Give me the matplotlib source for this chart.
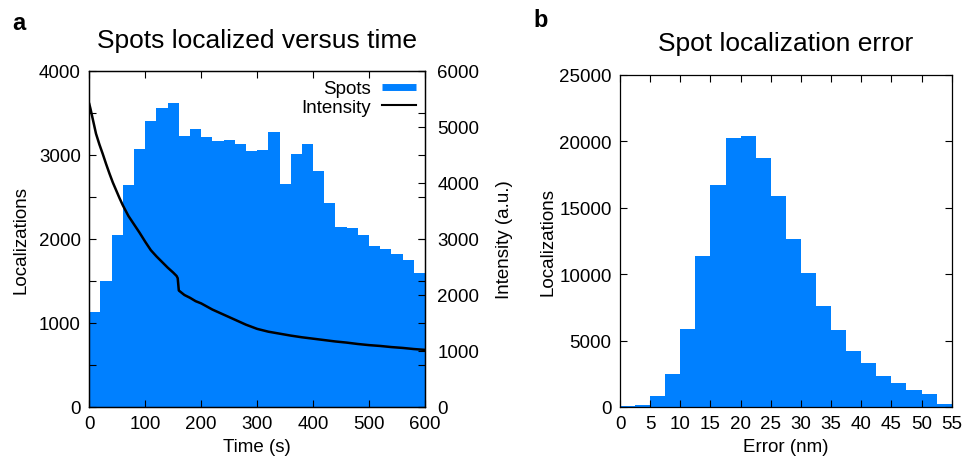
import matplotlib
matplotlib.use("Agg")
import matplotlib.pyplot as plt
from matplotlib.lines import Line2D
import numpy as np

plt.rcParams['font.family'] = ['Liberation Sans', 'DejaVu Sans']

BLUE = '#0080ff'

# panel a: spots per 20 s bin
time_edges = np.arange(0, 620, 20)
spots = [1130, 1505, 2048, 2642, 3077, 3406, 3556, 3624, 3232, 3307,
         3212, 3168, 3184, 3129, 3050, 3057, 3271, 2653, 3010, 3129,
         2812, 2424, 2147, 2127, 2048, 1917, 1877, 1822, 1750, 1596]

# panel a: intensity trace
int_time = [0, 2, 6, 12, 18, 24, 30, 36, 42, 48, 54, 60, 70, 80, 90, 100,
            110, 120, 130, 140, 150, 156, 158, 160, 165, 170, 180, 190, 200,
            220, 240, 260, 280, 300, 320, 340, 360, 380, 400, 420, 440, 460,
            480, 500, 520, 540, 560, 580, 600]
intensity = [5410, 5330, 5150, 4880, 4690, 4520, 4340, 4170, 4010, 3870,
             3730, 3600, 3410, 3260, 3110, 2950, 2800, 2690, 2590, 2490,
             2400, 2340, 2300, 2080, 2040, 2000, 1950, 1890, 1850, 1740,
             1650, 1560, 1470, 1395, 1345, 1310, 1275, 1245, 1220, 1195,
             1170, 1150, 1125, 1105, 1090, 1070, 1055, 1035, 1020]

# panel b: localization error histogram, 2.5 nm bins
err_edges = np.arange(0, 57.5, 2.5)
err_counts = [50, 150, 827, 2457, 5868, 11334, 16725, 20261, 20411, 18731,
              15898, 12613, 10080, 7598, 5767, 4238, 3285, 2307, 1805, 1304,
              1003, 251]

fig = plt.figure(figsize=(9.69, 4.64), dpi=100)

W, H = 969, 464
ax = fig.add_axes([89.3 / W, 56 / H, 335.7 / W, 336 / H])
ax2 = ax.twinx()
axb = fig.add_axes([620 / W, 56 / H, 331.7 / W, 332 / H])

# --- panel a ---
ax.bar(time_edges[:-1], spots, width=20, align='edge', color=BLUE, linewidth=0)
ax.set_xlim(0, 600)
ax.set_ylim(0, 4000)
ax.set_xticks(range(0, 700, 100))
ax.set_yticks(range(0, 5000, 1000))
ax.set_yticks(range(0, 4500, 500), minor=True)
ax.tick_params(which='both', direction='in', length=5, width=0.8,
               top=True, right=True, labelsize=13.5, pad=6)
ax.set_xlabel('Time (s)', fontsize=13.5)
ax.set_ylabel('Localizations', fontsize=13.5, labelpad=7)
ax.set_title('Spots localized versus time', fontsize=19, pad=17)

ax2.plot(int_time, intensity, color='black', lw=1.8)
ax2.set_ylim(0, 6000)
ax2.set_yticks(range(0, 7000, 1000))
ax2.tick_params(direction='in', length=5, width=0.8, labelsize=13.5, pad=9)
ax2.set_ylabel('Intensity (a.u.)', fontsize=13.5, labelpad=12)

handles = [Line2D([], [], color=BLUE, lw=5, solid_capstyle='butt'),
           Line2D([], [], color='black', lw=1.5)]
ax2.legend(handles, ['Spots', 'Intensity'], loc='upper right', frameon=False,
           markerfirst=False, fontsize=13.5, handlelength=1.8,
           handletextpad=0.6, labelspacing=0.05, borderaxespad=0.3,
           borderpad=0.2)

# --- panel b ---
axb.bar(err_edges[:-1], err_counts, width=2.5, align='edge', color=BLUE, linewidth=0)
axb.set_xlim(0, 55)
axb.set_ylim(0, 25000)
axb.set_xticks(range(0, 60, 5))
axb.set_yticks(range(0, 30000, 5000))
axb.tick_params(direction='in', length=5, width=0.8, top=True, right=True,
                labelsize=13.5, pad=6)
axb.set_xlabel('Error (nm)', fontsize=13.5)
axb.set_ylabel('Localizations', fontsize=13.5, labelpad=2)
axb.set_title('Spot localization error', fontsize=19, pad=18)

for a in (ax, ax2, axb):
    for s in a.spines.values():
        s.set_linewidth(0.9)

fig.text(12 / W, 1 - 30 / H, 'a', fontsize=17, fontweight='bold')
fig.text(533 / W, 1 - 27 / H, 'b', fontsize=17, fontweight='bold')

fig.savefig('out.png', dpi=100)
